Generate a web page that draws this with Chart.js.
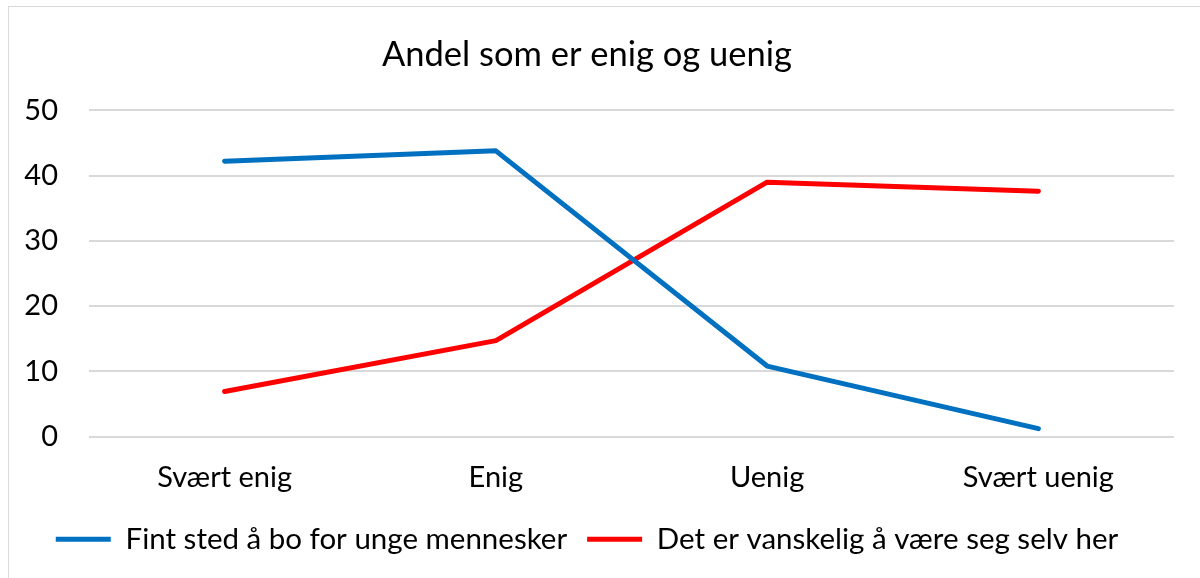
<!DOCTYPE html>
<html>
<head>
<meta charset="utf-8">
<script src="https://cdn.jsdelivr.net/npm/chart.js@4"></script>
<style>
  body { margin: 0; background: #fff; }
  #wrap { position: relative; width: 1200px; height: 578px; overflow: hidden; }
  #frame { position: absolute; left: 8px; top: 6px; width: 1300px; height: 700px; border: 1px solid #d9d9d9; }
  canvas { position: absolute; left: 0; top: 0; }
</style>
</head>
<body>
<div id="wrap">
  <div id="frame"></div>
  <canvas id="chart" width="1200" height="578"></canvas>
</div>
<script>
// svar-kategorier og andeler (prosent)
var categories = ['Svært enig', 'Enig', 'Uenig', 'Svært uenig'];
var fintSted = [42.2, 43.8, 10.8, 1.2];
var vanskelig = [6.9, 14.7, 39.0, 37.6];
var yTicks = [0, 10, 20, 30, 40, 50];

var fontName = 'Lato, "Open Sans", sans-serif';
Chart.defaults.font.family = fontName;
Chart.defaults.color = '#000';

var ctx = document.getElementById('chart').getContext('2d');

var chart = new Chart(ctx, {
  type: 'line',
  data: {
    labels: categories,
    datasets: [{
      label: 'Fint sted å bo for unge mennesker',
      data: fintSted,
      borderColor: '#0070C0',
      backgroundColor: '#0070C0',
      borderWidth: 5,
      borderCapStyle: 'round',
      borderJoinStyle: 'round',
      pointRadius: 0,
      pointStyle: 'line',
      tension: 0
    }, {
      label: 'Det er vanskelig å være seg selv her',
      data: vanskelig,
      borderColor: '#FF0000',
      backgroundColor: '#FF0000',
      borderWidth: 5,
      borderCapStyle: 'round',
      borderJoinStyle: 'round',
      pointRadius: 0,
      pointStyle: 'line',
      tension: 0
    }]
  },
  options: {
    responsive: false,
    animation: false,
    layout: { padding: { left: 0, right: 26, top: 0, bottom: 14 } },
    plugins: {
      title: {
        display: true,
        text: 'Andel som er enig og uenig',
        font: { size: 34.5, weight: 'normal' },
        padding: { top: 34, bottom: 35 }
      },
      legend: {
        position: 'bottom',
        labels: {
          usePointStyle: true,
          pointStyleWidth: 55,
          font: { size: 29.5 },
          padding: 20
        }
      },
      tooltip: { enabled: false }
    },
    scales: {
      x: {
        offset: true,
        grid: { display: false },
        border: { display: false },
        ticks: { font: { size: 29 }, padding: 16 },
        afterFit: function (s) { s.height = 68; }
      },
      y: {
        min: 0,
        max: 50,
        afterBuildTicks: function (s) { s.ticks = yTicks.map(function (v) { return { value: v }; }); },
        grid: { color: '#d9d9d9', lineWidth: 2, drawTicks: false },
        border: { display: false },
        ticks: { font: { size: 29 }, padding: 31 },
        afterFit: function (s) { s.width = 89; }
      }
    }
  }
});
</script>
</body>
</html>
